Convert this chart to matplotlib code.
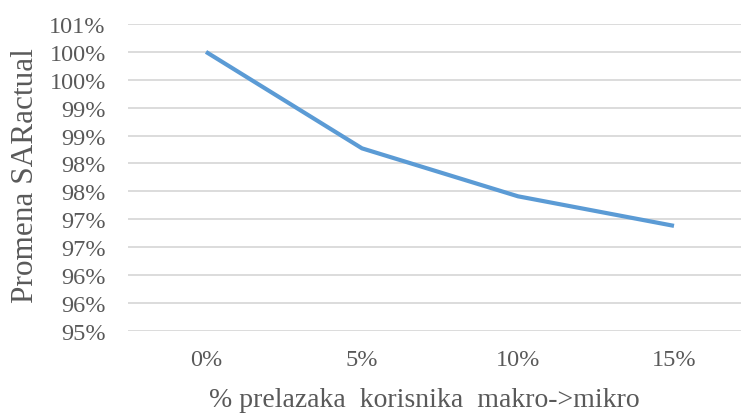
import matplotlib.pyplot as plt
from matplotlib.ticker import FuncFormatter

# udeo korisnika koji prelaze sa makro na mikro celije
categories = ["0%", "5%", "10%", "15%"]
sar_actual = [100.0, 98.27, 97.41, 96.88]

plt.rcParams["font.family"] = ["Liberation Serif", "DejaVu Serif"]
text_color = "#595959"

fig = plt.figure(figsize=(7.41, 4.14), dpi=100)
ax = fig.add_axes([128 / 741, 1 - 331.7 / 414, 624 / 741, 306.7 / 414])

x = list(range(len(categories)))
ax.plot(x, sar_actual, color="#5B9BD5", linewidth=3, solid_capstyle="butt")

ax.set_xlim(-0.5, len(categories) - 0.5)
ax.set_ylim(95.0, 100.5)
ax.set_yticks([95.0 + 0.5 * i for i in range(12)])
ax.yaxis.set_major_formatter(FuncFormatter(lambda v, _: f"{int(v + 0.5)}%"))
ax.set_xticks(x)
ax.set_xticklabels(categories)

ax.grid(axis="y", color="#D9D9D9", linewidth=1.3)
ax.set_axisbelow(True)
for side in ["top", "right", "left", "bottom"]:
    ax.spines[side].set_visible(False)
ax.tick_params(length=0, labelsize=17.5, colors=text_color)
ax.tick_params(axis="y", pad=16)
ax.tick_params(axis="x", pad=13)

ax.set_xlabel("% prelazaka  korisnika  makro->mikro", fontsize=20, color=text_color)
ax.set_ylabel("Promena SARactual", fontsize=22.5, color=text_color)
ax.xaxis.set_label_coords((424 - 128) / 624, -(388 - 331.7) / 306.7)
ax.yaxis.set_label_coords(-(128 - 40) / 624, (331.7 - 176) / 306.7)

fig.savefig("out.png", dpi=100)
